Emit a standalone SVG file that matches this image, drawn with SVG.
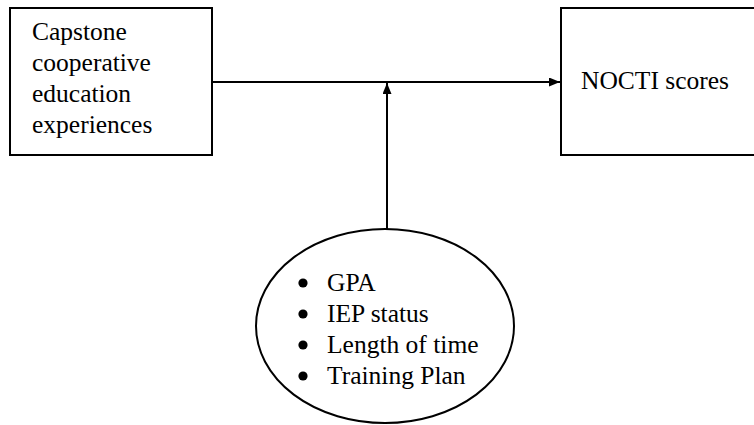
<svg xmlns="http://www.w3.org/2000/svg" width="754" height="425" viewBox="0 0 754 425">
<style>
.box{fill:#fff;stroke:#000;stroke-width:2}
.t{font-family:'Liberation Serif','Times New Roman',serif;font-size:25.5px;fill:#000}
.dot{fill:#000}
.c{stroke:#000;stroke-width:2;fill:none}
</style>
<defs>
<marker id="ah" markerWidth="11" markerHeight="9" refX="11" refY="4.5" orient="auto" markerUnits="userSpaceOnUse">
<path d="M0,0 L11,4.5 L0,9 Z" fill="#000"/>
</marker>
</defs>
<rect width="754" height="425" fill="#fff"/>
<g id="connectors">
<line class="c" x1="212" y1="82" x2="560" y2="82" marker-end="url(#ah)"/>
<line class="c" x1="387" y1="229" x2="387" y2="83" marker-end="url(#ah)"/>
</g>
<g id="capstone">
<rect class="box" x="10" y="8" width="202" height="147"/>
<text class="t" x="32" y="40">Capstone</text>
<text class="t" x="32" y="71">cooperative</text>
<text class="t" x="32" y="102">education</text>
<text class="t" x="32" y="133">experiences</text>
</g>
<g id="nocti">
<rect class="box" x="561" y="8" width="200" height="147"/>
<text class="t" x="581" y="89">NOCTI scores</text>
</g>
<g id="factors">
<ellipse class="box" cx="385" cy="326" rx="129" ry="97"/>
<circle class="dot" cx="303" cy="283" r="4.6"/>
<text class="t" x="327" y="291">GPA</text>
<circle class="dot" cx="303" cy="314" r="4.6"/>
<text class="t" x="327" y="322">IEP status</text>
<circle class="dot" cx="303" cy="345" r="4.6"/>
<text class="t" x="327" y="353">Length of time</text>
<circle class="dot" cx="303" cy="376" r="4.6"/>
<text class="t" x="327" y="384">Training Plan</text>
</g>
</svg>
